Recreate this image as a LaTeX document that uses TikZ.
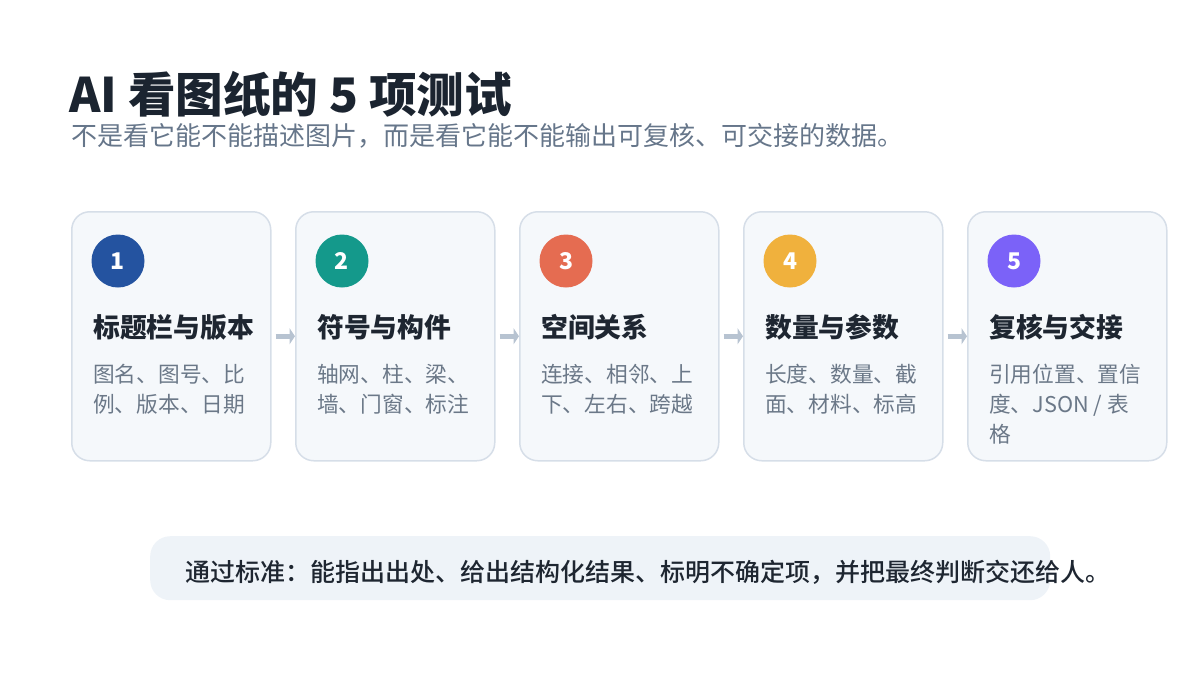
\documentclass[tikz,border=0pt]{standalone}
\usepackage{fontspec}
\setmainfont{Noto Sans CJK SC}
\newfontfamily\medfont{Noto Sans CJK SC}[UprightFont=* Medium]
\usetikzlibrary{arrows.meta}
\definecolor{titlec}{HTML}{1B2430}
\definecolor{subc}{HTML}{66768A}
\definecolor{headc}{HTML}{1E2631}
\definecolor{descc}{HTML}{6B7888}
\definecolor{cardfill}{HTML}{F5F8FB}
\definecolor{carddraw}{HTML}{D6DEE8}
\definecolor{arrc}{HTML}{B7C3D1}
\definecolor{notefill}{HTML}{EEF3F8}
\definecolor{cA}{HTML}{2453A0}
\definecolor{cB}{HTML}{14998B}
\definecolor{cC}{HTML}{E56C51}
\definecolor{cD}{HTML}{F0B13D}
\definecolor{cE}{HTML}{7B62F8}
\tikzset{
  card/.style={draw=carddraw, line width=1.5pt, fill=cardfill, rounded corners=18pt,
    minimum width=199pt, minimum height=249pt, inner sep=0pt},
  badge/.style={circle, minimum size=53pt, inner sep=0pt, text=white,
    font=\fontsize{23}{25}\selectfont\bfseries},
  headtxt/.style={anchor=base west, inner sep=0pt, text=headc,
    font=\fontsize{26.8}{29}\selectfont\bfseries},
  desctxt/.style={anchor=base west, inner sep=0pt, text=descc,
    font=\fontsize{21.7}{24}\selectfont},
  flow/.style={draw=arrc, line width=4.5pt, -{Triangle[length=5.5pt,width=16pt]}},
}
\begin{document}
\begin{tikzpicture}[x=1pt,y=-1pt]
\useasboundingbox (0,0) rectangle (1200,675);
\node[anchor=base west, inner sep=0pt, text=titlec, font=\fontsize{47.6}{52}\selectfont\bfseries] (title) at (69,112) {AI 看图纸的 5 项测试};
\node[anchor=base west, inner sep=0pt, text=subc, font=\fontsize{26}{28}\selectfont] (subtitle) at (71,145) {不是看它能不能描述图片，而是看它能不能输出可复核、可交接的数据。};
\foreach \i/\x/\col/\head/\la/\lb/\lc in {
  1/71/cA/标题栏与版本/图名、图号、比/例、版本、日期/{},
  2/295/cB/符号与构件/轴网、柱、梁、/墙、门窗、标注/{},
  3/519/cC/空间关系/连接、相邻、上/下、左右、跨越/{},
  4/743/cD/数量与参数/长度、数量、截/面、材料、标高/{},
  5/967/cE/复核与交接/引用位置、置信/{度、JSON / 表}/格}{
  \node[card, anchor=north west] (card\i) at (\x,211) {};
  \node[badge, fill=\col] (badge\i) at (\x+47,261) {\i};
  \node[headtxt] (head\i) at (\x+22,337) {\head};
  \node[desctxt] (da\i) at (\x+22,382) {\la};
  \node[desctxt] (db\i) at (\x+22,412) {\lb};
  \node[desctxt] (dc\i) at (\x+22,442) {\lc};
}
\foreach \a/\b in {1/2,2/3,3/4,4/5}{
  \draw[flow] ([xshift=4pt]card\a.east) -- (card\b.west);
}
\node[fill=notefill, rounded corners=20pt, minimum width=900pt, minimum height=64pt, anchor=north west, inner sep=0pt] (note) at (150,536) {};
\node[anchor=west, inner sep=0pt, text=headc, font=\fontsize{25}{27}\selectfont\medfont] (notetext) at (185,572) {通过标准：能指出出处、给出结构化结果、标明不确定项，并把最终判断交还给人。};
\end{tikzpicture}
\end{document}
